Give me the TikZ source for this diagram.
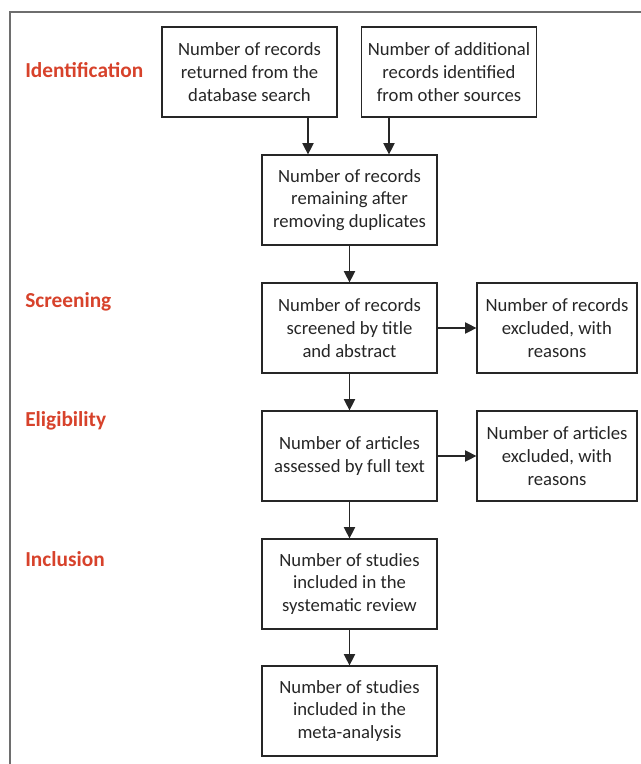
\documentclass[tikz,border=0pt]{standalone}
\usepackage{fontspec}
\setmainfont{Carlito}
\usetikzlibrary{arrows.meta}
\definecolor{txt}{HTML}{262626}
\definecolor{lab}{HTML}{D7422B}
\definecolor{frame}{HTML}{6E6E6E}
\begin{document}
\begin{tikzpicture}[x=0.75pt,y=-0.75pt,
  box/.style={draw=black!85,line width=0.9pt,text=txt,align=center,inner sep=0pt,
    minimum width=131.25pt,minimum height=67.5pt,font=\fontsize{14}{17}\selectfont},
  sbox/.style={box,minimum width=120pt},
  stage/.style={anchor=base west,text=lab,inner sep=0pt,font=\fontsize{16}{19}\selectfont\bfseries},
  arr/.style={line width=0.8pt,draw=black!85,-{Triangle[length=8.5pt,width=8.5pt]}}]
\useasboundingbox (0,0) rectangle (640,764);
\draw[frame,line width=1.1pt] (10,770) -- (10,12) -- (650,12);
\node[stage] (s1) at (25,77) {Identification};
\node[stage] (s2) at (25,307) {Screening};
\node[stage] (s3) at (25,426) {Eligibility};
\node[stage] (s4) at (25,566) {Inclusion};
\node[box] (a) at (249.5,72) {Number of records\\returned from the\\database search};
\node[box] (b) at (449,72) {Number of additional\\records identified\\from other sources};
\node[box] (c) at (349.5,200) {Number of records\\remaining after\\removing duplicates};
\node[box] (d) at (349.5,328) {Number of records\\screened by title\\and abstract};
\node[sbox] (e) at (557,328) {Number of records\\excluded, with\\reasons};
\node[box] (f) at (349.5,456) {Number of articles\\assessed by full text};
\node[sbox] (g) at (557,456) {Number of articles\\excluded, with\\reasons};
\node[box] (h) at (349.5,584) {Number of studies\\included in the\\systematic review};
\node[box] (i) at (349.5,711) {Number of studies\\included in the\\meta-analysis};
\draw[arr] (a.south -| 308,0) -- (c.north -| 308,0);
\draw[arr] (b.south -| 389,0) -- (c.north -| 389,0);
\draw[arr] (c) -- (d);
\draw[arr] (d) -- (e);
\draw[arr] (d) -- (f);
\draw[arr] (f) -- (g);
\draw[arr] (f) -- (h);
\draw[arr] (h) -- (i);
\end{tikzpicture}
\end{document}
